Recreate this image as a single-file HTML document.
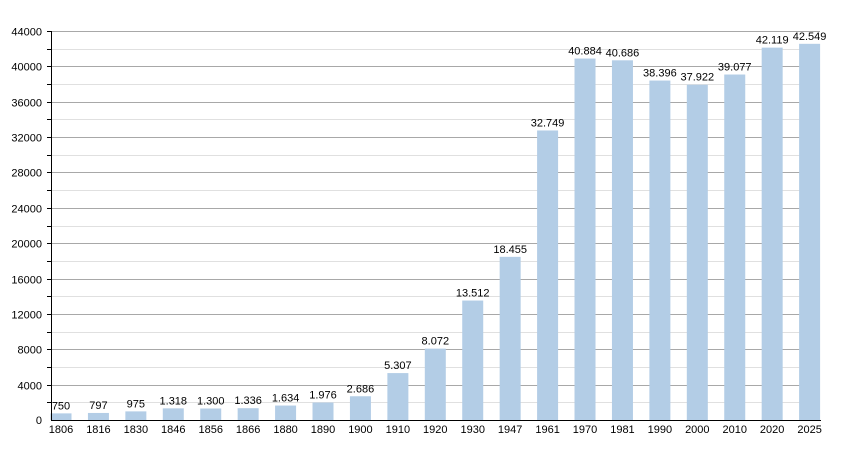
<!DOCTYPE html>
<html><head><style>body{margin:0;background:#fff}svg{display:block}text{font-family:"Liberation Sans",sans-serif;font-size:11px;fill:#000}</style></head>
<body>
<svg width="850" height="450" xmlns="http://www.w3.org/2000/svg">
<g id="grid"></g><g id="bars"></g>
<line x1="51.5" y1="31" x2="51.5" y2="420" stroke="#000"/>
<line x1="51" y1="420.5" x2="821" y2="420.5" stroke="#000"/>
</svg>
<script>
const svg=document.querySelector('svg'),NS="http://www.w3.org/2000/svg";
function el(t,a,txt){const e=document.createElementNS(NS,t);for(const k in a)e.setAttribute(k,a[k]);if(txt!=null)e.textContent=txt;svg.insertBefore(e,svg.lastElementChild.previousElementSibling);return e;}
const y0=420,sc=389/44000;
for(let v=2000;v<=44000;v+=2000){const y=Math.round(y0-v*sc)+0.5;const major=v%4000==0;
el('line',{x1:52,y1:y,x2:820,y2:y,stroke:major?'#a8a8a8':'#e0e0e0'});
el('line',{x1:47,y1:y,x2:51,y2:y,stroke:'#000'});
if(major)el('text',{x:42,y:y+4,'text-anchor':'end'},v);}
el('text',{x:42,y:424,'text-anchor':'end'},0);
const yrs=[1806,1816,1830,1846,1856,1866,1880,1890,1900,1910,1920,1930,1947,1961,1970,1981,1990,2000,2010,2020,2025];
const vals=[750,797,975,1318,1300,1336,1634,1976,2686,5307,8072,13512,18455,32749,40884,40686,38396,37922,39077,42119,42549];
yrs.forEach((yr,i)=>{const cx=61+i*37.43,h=vals[i]*sc;
el('rect',{x:cx-10.5,y:y0-h,width:21,height:h,fill:'#b3cde6'});
el('text',{x:cx,y:y0-h-4,'text-anchor':'middle'},vals[i]>=1000?(vals[i]/1000).toFixed(3):vals[i]);
el('text',{x:cx,y:433,'text-anchor':'middle'},yr);});
</script>
</body></html>
